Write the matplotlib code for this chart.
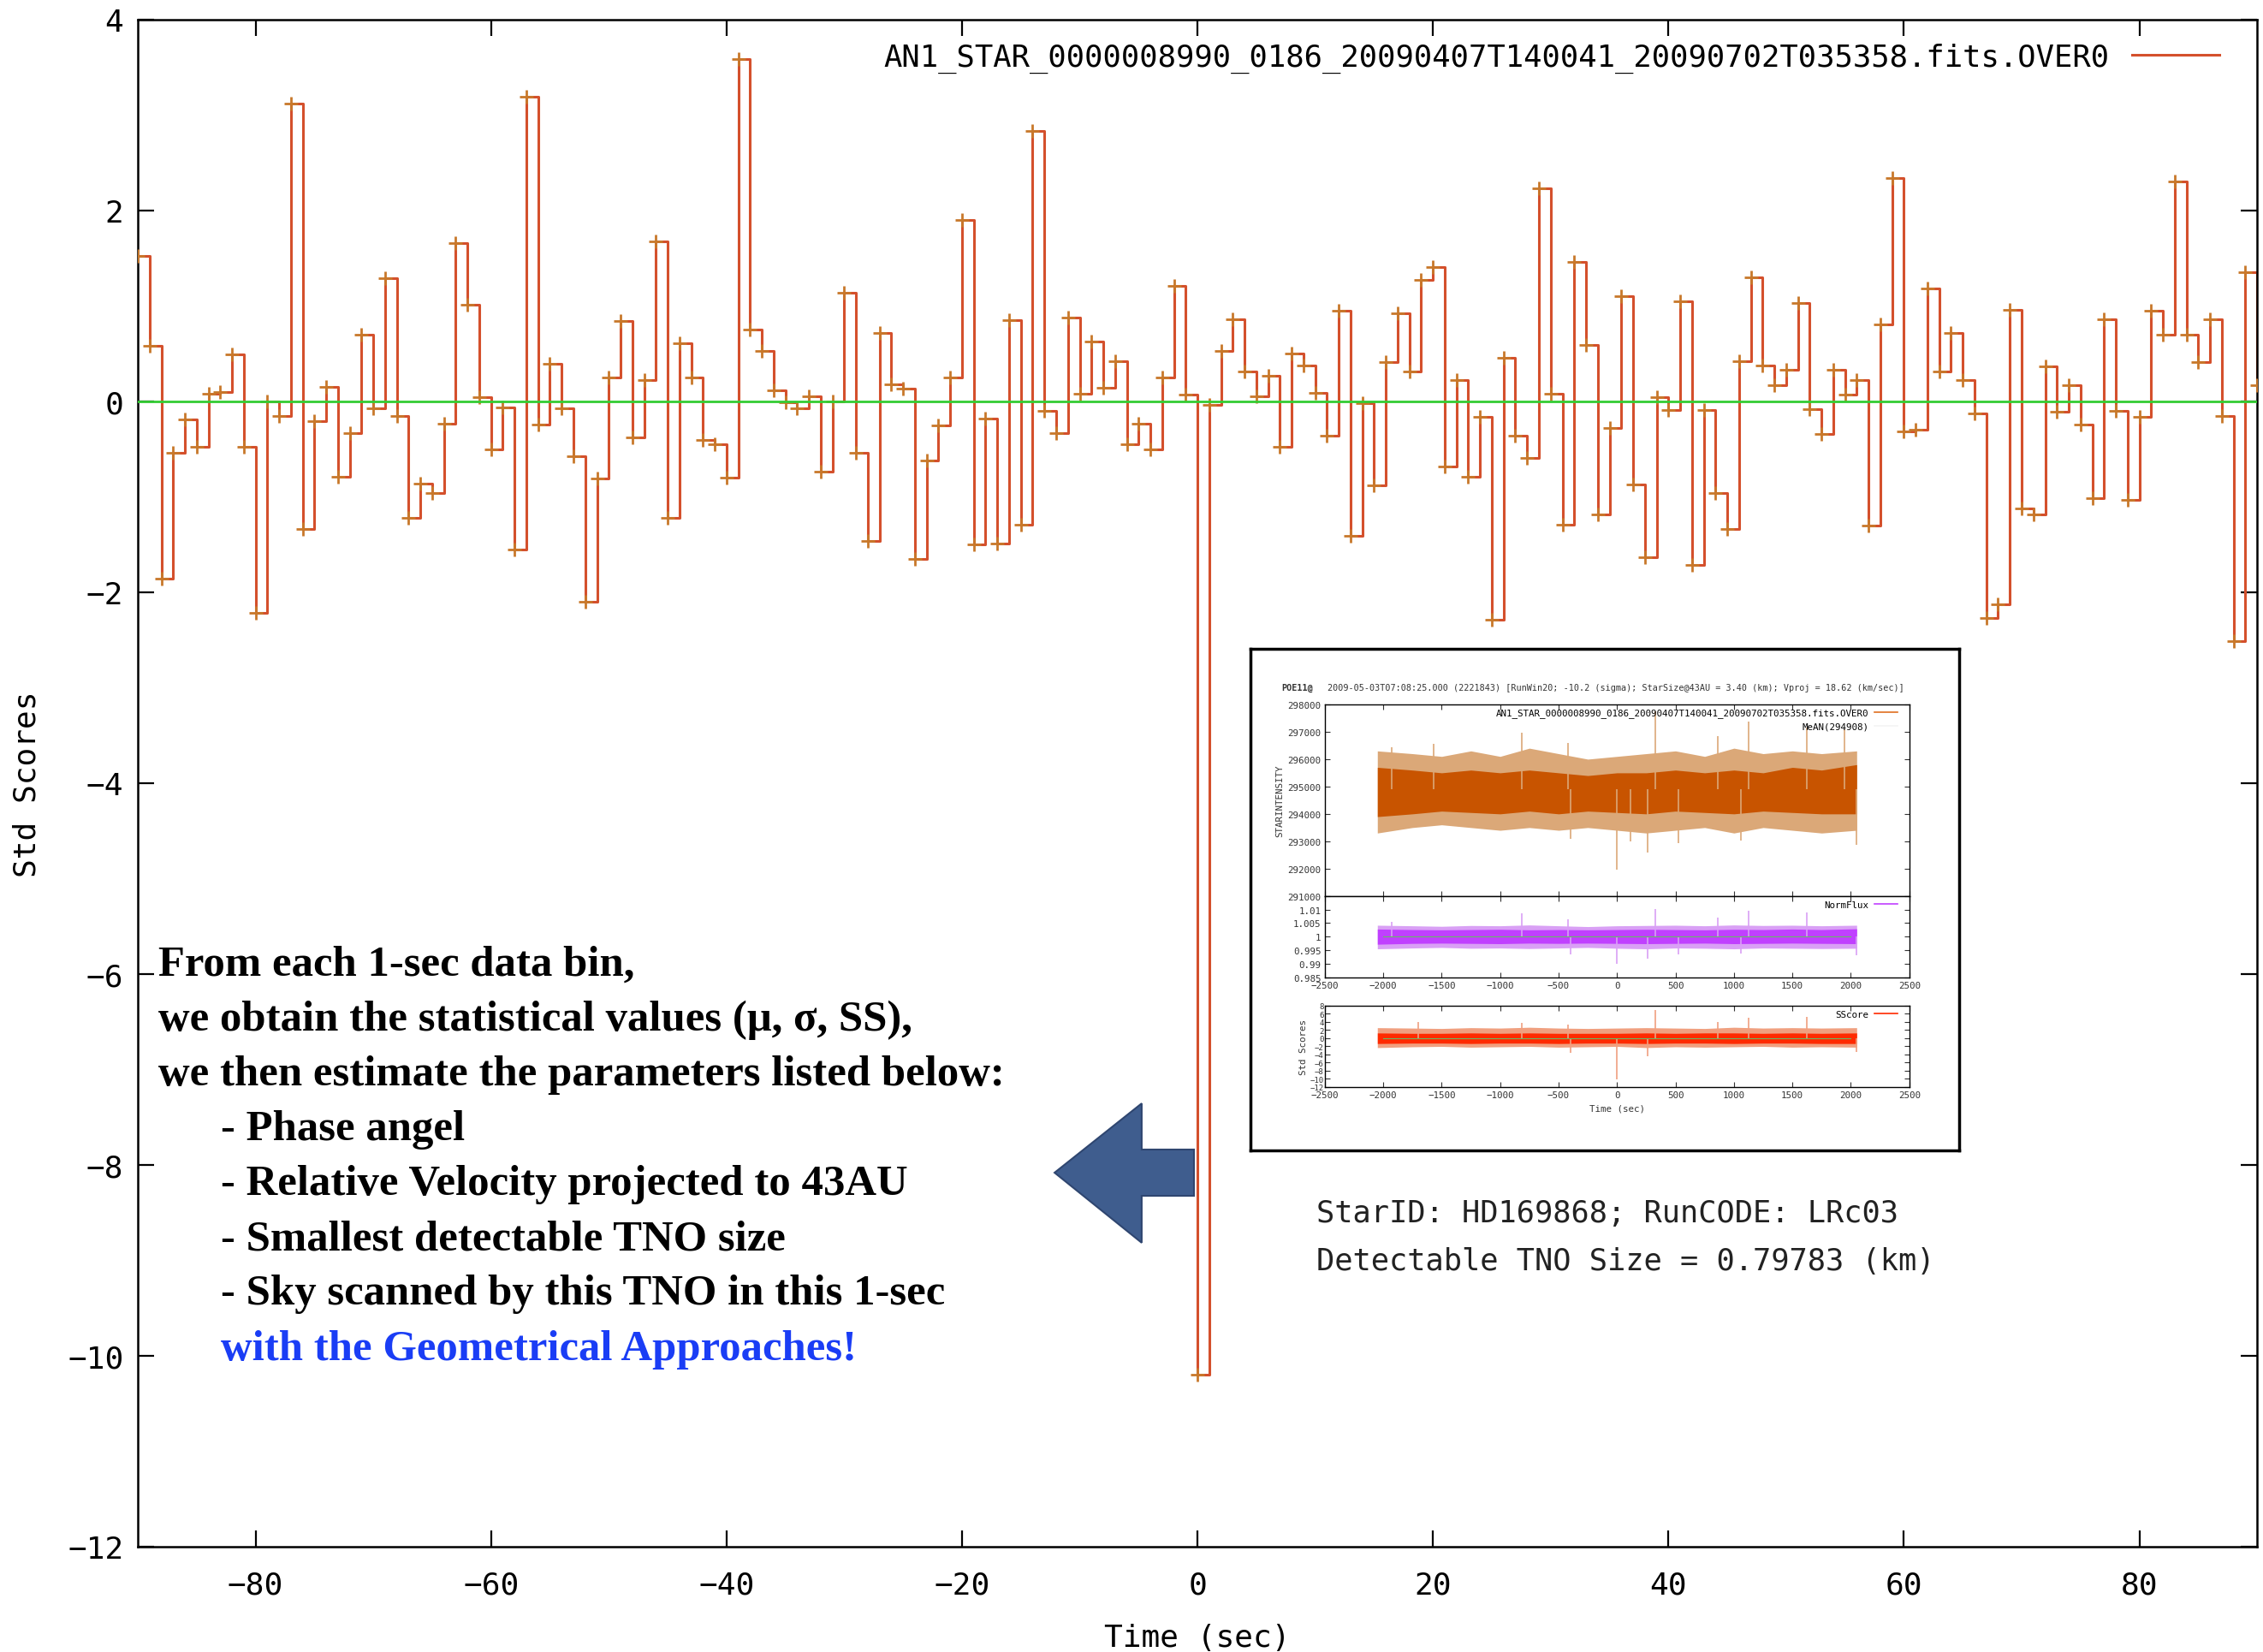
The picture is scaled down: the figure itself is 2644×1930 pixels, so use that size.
import numpy as np
import matplotlib
matplotlib.use('Agg')
import matplotlib.pyplot as plt
from matplotlib.lines import Line2D
from matplotlib.patches import Polygon

plt.rcParams['font.family'] = ['DejaVu Sans Mono']
plt.rcParams['font.size'] = 26

# 1-sec bins, std scores
t_sec = np.arange(-90, 91)
ss = [
    1.52, 0.58, -1.86, -0.54, -0.19, -0.48, 0.08, 0.10, 0.49, -0.48,
    -2.22, 0.00, -0.15, 3.12, -1.34, -0.21, 0.15, -0.79, -0.33, 0.70,
    -0.07, 1.29, -0.15, -1.22, -0.86, -0.96, -0.23, 1.66, 1.01, 0.04,
    -0.50, -0.06, -1.55, 3.19, -0.24, 0.39, -0.07, -0.57, -2.10, -0.81,
    0.25, 0.84, -0.38, 0.22, 1.68, -1.22, 0.61, 0.25, -0.40, -0.45,
    -0.80, 3.59, 0.75, 0.53, 0.12, -0.01, -0.07, 0.05, -0.74, 0.00,
    1.14, -0.54, -1.46, 0.72, 0.18, 0.13, -1.65, -0.62, -0.25, 0.25,
    1.90, -1.50, -0.18, -1.49, 0.85, -1.29, 2.83, -0.10, -0.33, 0.88,
    0.08, 0.63, 0.14, 0.42, -0.45, -0.23, -0.50, 0.25, 1.21, 0.07,
    -10.20, -0.04, 0.53, 0.86, 0.31, 0.05, 0.27, -0.48, 0.50, 0.38,
    0.09, -0.36, 0.95, -1.41, -0.02, -0.88, 0.41, 0.92, 0.31, 1.27,
    1.41, -0.68, 0.22, -0.79, -0.16, -2.29, 0.46, -0.36, -0.59, 2.23,
    0.08, -1.29, 1.46, 0.59, -1.18, -0.28, 1.10, -0.87, -1.63, 0.04,
    -0.09, 1.05, -1.71, -0.09, -0.96, -1.34, 0.42, 1.30, 0.38, 0.17,
    0.33, 1.03, -0.08, -0.34, 0.33, 0.07, 0.22, -1.30, 0.81, 2.34,
    -0.31, -0.30, 1.18, 0.31, 0.72, 0.22, -0.13, -2.27, -2.13, 0.96,
    -1.12, -1.18, 0.37, -0.11, 0.17, -0.24, -1.01, 0.86, -0.10, -1.03,
    -0.16, 0.95, 0.70, 2.30, 0.70, 0.41, 0.86, -0.15, -2.51, 1.35,
    0.17,
]
series_name = 'AN1_STAR_0000008990_0186_20090407T140041_20090702T035358.fits.OVER0'

# inset (full light curve), envelopes
inset_t = [-2050, -1750, -1500, -1250, -1000, -750, -500, -250, 0,
           250, 500, 750, 1000, 1250, 1500, 1750, 2050]
star_core_lo = [293900, 294000, 294100, 294050, 294000, 294100, 294000, 294100, 294050,
                294000, 294100, 294050, 294000, 294100, 294050, 294000, 294000]
star_core_hi = [295700, 295600, 295500, 295600, 295500, 295600, 295500, 295400, 295500,
                295500, 295600, 295500, 295600, 295500, 295700, 295600, 295800]
star_out_lo = [293300, 293500, 293600, 293500, 293400, 293500, 293400, 293500, 293400,
               293300, 293400, 293500, 293300, 293500, 293400, 293300, 293400]
star_out_hi = [296300, 296200, 296100, 296300, 296100, 296400, 296200, 296000, 296100,
               296200, 296300, 296100, 296400, 296200, 296300, 296200, 296300]
star_up_t = [-1924, -1571, -818, -422, 324, 860, 1127, 1625, 1947]
star_up_v = [296450, 296560, 296980, 296600, 297760, 296830, 297370, 297140, 297100]
star_dn_t = [-394, 0, 118, 265, 527, 1057, 2049]
star_dn_v = [293100, 291960, 293000, 292600, 292940, 293010, 292860]
star_mean = 294908

norm_core_lo = [0.9972, 0.9975, 0.9976, 0.9975, 0.9974, 0.9976, 0.9975, 0.9976, 0.9975,
                0.9974, 0.9975, 0.9976, 0.9974, 0.9975, 0.9976, 0.9975, 0.9974]
norm_core_hi = [1.0028, 1.0026, 1.0025, 1.0026, 1.0027, 1.0025, 1.0026, 1.0025, 1.0026,
                1.0027, 1.0026, 1.0025, 1.0027, 1.0026, 1.0028, 1.0026, 1.0029]
norm_out_lo = [0.9955, 0.9958, 0.9960, 0.9957, 0.9958, 0.9956, 0.9958, 0.9960, 0.9957,
               0.9955, 0.9958, 0.9957, 0.9955, 0.9958, 0.9957, 0.9956, 0.9957]
norm_out_hi = [1.0042, 1.0040, 1.0038, 1.0041, 1.0040, 1.0043, 1.0040, 1.0037, 1.0040,
               1.0041, 1.0042, 1.0040, 1.0043, 1.0041, 1.0042, 1.0040, 1.0042]
norm_up_t = [-1924, -818, -422, 324, 860, 1127, 1625]
norm_up_v = [1.0055, 1.0085, 1.0065, 1.0102, 1.0070, 1.0095, 1.0090]
norm_dn_t = [-394, 0, 265, 527, 1057, 2049]
norm_dn_v = [0.9935, 0.9900, 0.9920, 0.9935, 0.9938, 0.9930]

sc_core_lo = [-1.3, -1.2, -1.2, -1.3, -1.2, -1.2, -1.3, -1.2, -1.2,
              -1.3, -1.2, -1.2, -1.3, -1.2, -1.2, -1.3, -1.3]
sc_core_hi = [1.3, 1.2, 1.2, 1.3, 1.2, 1.3, 1.2, 1.2, 1.2,
              1.3, 1.2, 1.3, 1.3, 1.2, 1.3, 1.2, 1.3]
sc_out_lo = [-2.3, -2.1, -2.0, -2.2, -2.1, -2.0, -2.2, -2.1, -2.0,
             -2.3, -2.1, -2.2, -2.1, -2.0, -2.2, -2.1, -2.2]
sc_out_hi = [2.6, 2.5, 2.4, 2.6, 2.5, 2.7, 2.5, 2.4, 2.5,
             2.6, 2.5, 2.4, 2.7, 2.5, 2.6, 2.5, 2.6]
sc_up_t = [-1700, -818, -422, 324, 860, 1127, 1625]
sc_up_v = [4.0, 3.8, 3.3, 7.0, 3.9, 5.0, 5.3]
sc_dn_t = [-394, 0, 265, 2049]
sc_dn_v = [-3.5, -10.2, -4.5, -3.3]

inset_title = ('2009-05-03T07:08:25.000 (2221843) [RunWin20; -10.2 (sigma); '
               'StarSize@43AU = 3.40 (km); Vproj = 18.62 (km/sec)]')

text_lines = [
    ('From each 1-sec data bin,', 0),
    ('we obtain the statistical values (\u03bc, \u03c3, SS),', 0),
    ('we then estimate the parameters listed below:', 0),
    ('- Phase angel', 1),
    ('- Relative Velocity projected to 43AU', 1),
    ('- Smallest detectable TNO size', 1),
    ('- Sky scanned by this TNO in this 1-sec', 1),
    ('with the Geometrical Approaches!', 1),
]
star_info = ['StarID: HD169868; RunCODE: LRc03',
             'Detectable TNO Size = 0.79783 (km)']

line_c = '#d4502c'
mark_c = '#c8782a'
green = '#33cc33'

fig = plt.figure(figsize=(26.44, 19.31), dpi=100)
ax = fig.add_axes([0.0609, 0.0637, 0.9365, 0.9239])

ax.plot(t_sec, ss, drawstyle='steps-post', color=line_c, lw=2.2, zorder=2)
ax.plot(t_sec, ss, ls='none', marker='+', ms=11, mew=2, color=mark_c, zorder=3)
ax.axhline(0, color=green, lw=2, zorder=4)

ax.set_xlim(-90, 90)
ax.set_ylim(-12, 4)
ax.set_xticks(range(-80, 81, 20))
ax.set_yticks(range(-12, 5, 2))
ax.tick_params(direction='in', length=13.5, width=1.6, top=True, right=True,
               labelsize=26)
ax.tick_params(axis='x', pad=20)
ax.tick_params(axis='y', pad=12)
for s in ax.spines.values():
    s.set_linewidth(1.8)
ax.set_xlabel('Time (sec)', fontsize=26)
ax.set_ylabel('Std Scores', fontsize=26)
ax.xaxis.set_label_coords(0.5, -0.050)
ax.yaxis.set_label_coords(-0.0456, 0.5)

h = Line2D([], [], color=line_c, lw=2.2)
ax.legend([h], [series_name], loc='upper right', bbox_to_anchor=(0.982, 0.985),
          frameon=False, markerfirst=False, fontsize=25.6, handlelength=2.85,
          handletextpad=0.76, borderaxespad=0, borderpad=0)

# explanatory text
for i, (s, ind) in enumerate(text_lines):
    col = '#1a3df5' if s.startswith('with') else 'black'
    fig.text(0.0976 if ind else 0.0700, 0.4160 - i * 0.03321, s,
             family=['Liberation Serif', 'DejaVu Serif'], fontweight='bold',
             fontsize=36.5, color=col, va='center', ha='left')

for i, s in enumerate(star_info):
    fig.text(0.5817, 0.2657 - i * 0.029, s, fontsize=25.5, va='center', ha='left',
             color='#222222')

# arrow pointing to the text
arrow = Polygon([(0.4660, 0.2900), (0.5045, 0.3319), (0.5045, 0.3040),
                 (0.5276, 0.3040), (0.5276, 0.2760), (0.5045, 0.2760),
                 (0.5045, 0.2476)], closed=True, transform=fig.transFigure,
                facecolor='#3f5d8e', edgecolor='#2f4670', lw=1.5, zorder=5)
fig.patches.append(arrow)

# inset frame
box = fig.add_axes([0.5526, 0.3035, 0.3131, 0.3034])
box.set_xticks([])
box.set_yticks([])
for s in box.spines.values():
    s.set_linewidth(2.5)
box.set_zorder(6)

fs_in = 7.8
orange = '#c85400'
orange_l = '#dba878'
purple = '#c040ff'
purple_l = '#d9a0f5'
red = '#ff2a00'
red_l = '#f0a080'


def inset_panel(rect, core_lo, core_hi, out_lo, out_hi, up_t, up_v, dn_t, dn_v,
                col, col_l, base):
    a = fig.add_axes(rect)
    a.set_zorder(7)
    a.fill_between(inset_t, out_lo, out_hi, color=col_l, lw=0)
    a.fill_between(inset_t, core_lo, core_hi, color=col, lw=0)
    a.vlines(up_t, base, up_v, color=col_l, lw=1.2)
    a.vlines(dn_t, dn_v, base, color=col_l, lw=1.2)
    a.set_xlim(-2500, 2500)
    a.set_xticks(range(-2500, 2501, 500))
    a.tick_params(direction='in', length=4, width=0.8, top=True, right=True,
                  labelsize=fs_in, colors='#333333', pad=3)
    for s in a.spines.values():
        s.set_linewidth(1.0)
    return a


a1 = inset_panel([0.5854, 0.4574, 0.2583, 0.1159], star_core_lo, star_core_hi,
                 star_out_lo, star_out_hi, star_up_t, star_up_v, star_dn_t, star_dn_v,
                 orange, orange_l, star_mean)
a1.set_ylim(291000, 298000)
a1.set_yticks(range(291000, 298001, 1000))
a1.tick_params(labelbottom=False)
a1.set_ylabel('STARINTENSITY', fontsize=fs_in, color='#333333', labelpad=3)
a1.legend([Line2D([], [], color='#e07020', lw=1.2), Line2D([], [], color='#f4f4f4', lw=1.2)],
          [series_name, 'MeAN(294908)'], loc='upper right', bbox_to_anchor=(0.98, 0.98),
          frameon=False, markerfirst=False, fontsize=fs_in, handlelength=2.5,
          handletextpad=0.6, borderaxespad=0, borderpad=0, labelspacing=0.5)

a2 = inset_panel([0.5854, 0.4082, 0.2583, 0.0492], norm_core_lo, norm_core_hi,
                 norm_out_lo, norm_out_hi, norm_up_t, norm_up_v, norm_dn_t, norm_dn_v,
                 purple, purple_l, 1.0)
a2.axhline(1.0, xmin=0.1, xmax=0.9, color='#66bb66', lw=0.8)
a2.set_ylim(0.985, 1.015)
a2.set_yticks(np.arange(0.985, 1.0151, 0.005))
a2.set_yticklabels(['0.985', '0.99', '0.995', '1', '1.005', '1.01', ''])
a2.legend([Line2D([], [], color=purple, lw=1.2)], ['NormFlux'], loc='upper right',
          bbox_to_anchor=(0.98, 0.95), frameon=False, markerfirst=False, fontsize=fs_in,
          handlelength=2.5, handletextpad=0.6, borderaxespad=0, borderpad=0)

a3 = inset_panel([0.5854, 0.3418, 0.2583, 0.0492], sc_core_lo, sc_core_hi,
                 sc_out_lo, sc_out_hi, sc_up_t, sc_up_v, sc_dn_t, sc_dn_v,
                 red, red_l, 0.0)
a3.axhline(0.0, xmin=0.1, xmax=0.9, color='#66bb66', lw=0.8)
a3.set_ylim(-12, 8)
a3.set_yticks(range(-12, 9, 2))
a3.tick_params(axis='y', labelsize=6.5, pad=1)
a3.set_ylabel('Std Scores', fontsize=fs_in, color='#333333', labelpad=2)
a3.set_xlabel('Time (sec)', fontsize=fs_in, color='#333333', labelpad=4)
a3.legend([Line2D([], [], color=red, lw=1.2)], ['SScore'], loc='upper right',
          bbox_to_anchor=(0.98, 0.95), frameon=False, markerfirst=False, fontsize=fs_in,
          handlelength=2.5, handletextpad=0.6, borderaxespad=0, borderpad=0)

fig.text(0.5662, 0.5838, 'POE11@', fontsize=7.3, fontweight='bold', color='#333333',
         va='center', ha='left', zorder=8)
fig.text(0.5867, 0.5838, inset_title, fontsize=7.3, color='#333333',
         va='center', ha='left', zorder=8)

fig.savefig('out.png', dpi=100)
